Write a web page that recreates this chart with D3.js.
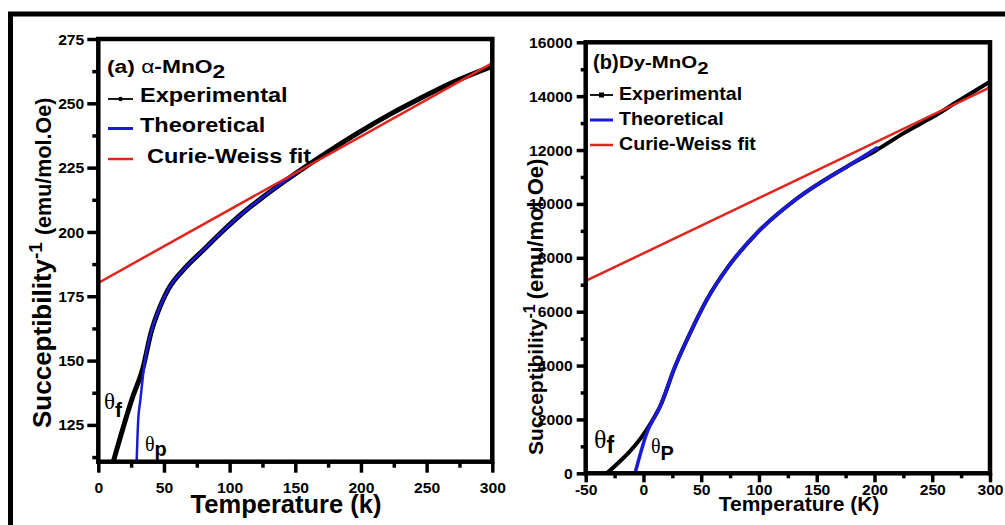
<!DOCTYPE html>
<html>
<head>
<meta charset="utf-8">
<script src="https://cdn.jsdelivr.net/npm/d3@7"></script>
<style>
  body { margin: 0; background: #fff; }
  svg { display: block; }
</style>
</head>
<body>
<div id="chart"></div>
<script>
(function() {
    'use strict';

    // ---- data ----
    // (a) alpha-MnO2
    const tempExpA = [11.4, 25.4, 34.2, 40, 47, 53, 67, 80, 94, 108, 125.5, 141, 158.5, 178.7, 200, 223, 244.6, 270, 300];
    const invChiExpA = [110.7, 134.7, 147.6, 160.6, 171, 177.5, 186.5, 193, 200, 206.5, 213.6, 219.4, 225.6, 232.4, 239.2, 246, 251.8, 258.2, 264.4];
    const tempTheoA = [29.2, 30.4, 32, 35.2, 40, 47, 53, 67, 80, 94, 108, 125.5, 141, 155];
    const invChiTheoA = [110.7, 127, 134.5, 149, 160.6, 171, 177.5, 186.5, 193, 200, 206.5, 213.6, 219.4, 224.4];
    const tempFitA = [0, 300];
    const invChiFitA = [180.2, 265.6];

    // (b) Dy-MnO2
    const tempExpB = [-31.8, 7.1, 14.3, 27.3, 40.3, 54.7, 73.4, 98, 131.2, 176, 202, 225, 251, 274, 300];
    const invChiExpB = [0, 1916, 2472, 3957, 5197, 6433, 7670, 8910, 10146, 11383, 12002, 12620, 13240, 13858, 14537];
    const tempTheoB = [-7.3, 2.8, 14.3, 27.3, 40.3, 54.7, 73.4, 98, 131.2, 176, 203];
    const invChiTheoB = [0, 1485, 2472, 3957, 5197, 6433, 7670, 8910, 10146, 11383, 12100];
    const tempFitB = [-50, 300];
    const invChiFitB = [7139, 14329];

    // ticks
    const xTicksA = [0, 50, 100, 150, 200, 250, 300];
    const xMinorA = [25, 75, 125, 175, 225, 275];
    const yTicksA = [125, 150, 175, 200, 225, 250, 275];
    const yMinorA = [112.5, 137.5, 162.5, 187.5, 212.5, 237.5, 262.5];
    const xTicksB = [-50, 0, 50, 100, 150, 200, 250, 300];
    const xMinorB = [-25, 25, 75, 125, 175, 225, 275];
    const yTicksB = [0, 2000, 4000, 6000, 8000, 10000, 12000, 14000, 16000];
    const yMinorB = [1000, 3000, 5000, 7000, 9000, 11000, 13000, 15000];

    const legendLabels = ['Experimental', 'Theoretical', 'Curie-Weiss fit'];

    const SANS = '"Liberation Sans", Arial, Helvetica, sans-serif';
    const SERIF = '"Liberation Serif", "Times New Roman", serif';
    const BLACK = '#000', BLUE = '#1a1ad8', RED = '#e0241e';

    const svg = d3.select('#chart').append('svg')
        .attr('width', 1005)
        .attr('height', 525);

    svg.append('rect').attr('width', 1005).attr('height', 525).attr('fill', '#fff');

    // outer border left over from the source figure
    svg.append('line').attr('x1', 8).attr('x2', 1005).attr('y1', 14).attr('y2', 14)
        .attr('stroke', '#000').attr('stroke-width', 5);
    svg.append('line').attr('x1', 10.5).attr('x2', 10.5).attr('y1', 12).attr('y2', 525)
        .attr('stroke', '#000').attr('stroke-width', 5);

    // text helper: a text stretched horizontally like the source
    function addText(parent, x, y, sx, parts, anchor) {
        const t = parent.append('text')
            .attr('transform', `translate(${x},${y}) scale(${sx},1)`)
            .attr('text-anchor', anchor || 'start')
            .attr('fill', '#000');
        parts.forEach(p => {
            t.append('tspan')
                .attr('dy', p.dy || 0)
                .attr('dx', p.dx || 0)
                .style('font-family', p.family || SANS)
                .style('font-weight', p.weight || 'bold')
                .style('font-size', p.size + 'px')
                .text(p.t);
        });
        return t;
    }

    function drawPanel(cfg) {
        const g = svg.append('g');
        const x = d3.scaleLinear().domain(cfg.xDomain).range([cfg.left, cfg.right]);
        const y = d3.scaleLinear().domain(cfg.yDomain).range([cfg.bottom, cfg.top]);
        const fmt = d => String(d);

        // major + minor ticks
        const xMaj = g.append('g').attr('transform', `translate(0,${cfg.bottom})`)
            .call(d3.axisBottom(x).tickValues(cfg.xTicks).tickSize(cfg.majorLen).tickFormat(fmt));
        const xMin = g.append('g').attr('transform', `translate(0,${cfg.bottom})`)
            .call(d3.axisBottom(x).tickValues(cfg.xMinor).tickSize(cfg.minorLen).tickFormat(''));
        const yMaj = g.append('g').attr('transform', `translate(${cfg.left},0)`)
            .call(d3.axisLeft(y).tickValues(cfg.yTicks).tickSize(cfg.majorLen).tickFormat(fmt));
        const yMin = g.append('g').attr('transform', `translate(${cfg.left},0)`)
            .call(d3.axisLeft(y).tickValues(cfg.yMinor).tickSize(cfg.minorLen).tickFormat(''));

        [xMaj, xMin, yMaj, yMin].forEach(a => {
            a.select('.domain').remove();
            a.selectAll('line').attr('stroke', '#000').attr('stroke-width', 3.5);
        });
        const tickStyle = sel => sel
            .style('font-family', SANS)
            .style('font-weight', 'bold')
            .style('font-size', '14px')
            .attr('fill', '#000')
            .attr('transform', 'scale(1.12,1)');
        tickStyle(xMaj.selectAll('text')).attr('y', cfg.xLabelBase).attr('dy', 0);
        tickStyle(yMaj.selectAll('text')).attr('x', -cfg.yLabelGap / 1.12).attr('dy', '0.36em');

        // curves
        const line = d3.line().x(d => x(d[0])).y(d => y(d[1])).curve(d3.curveMonotoneX);
        const zip = (a, b) => a.map((v, i) => [v, b[i]]);

        const clipId = 'clip-' + cfg.id;
        g.append('clipPath').attr('id', clipId).append('rect')
            .attr('x', cfg.left).attr('y', cfg.top)
            .attr('width', cfg.right - cfg.left).attr('height', cfg.bottom - cfg.top);
        const plot = g.append('g').attr('clip-path', `url(#${clipId})`);

        plot.append('path').datum(zip(cfg.expT, cfg.expV))
            .attr('fill', 'none').attr('stroke', BLACK)
            .attr('stroke-width', cfg.expWidth).attr('stroke-linejoin', 'round')
            .attr('d', line);
        plot.append('path').datum(zip(cfg.theoT, cfg.theoV))
            .attr('fill', 'none').attr('stroke', BLUE)
            .attr('stroke-width', cfg.theoWidth).attr('stroke-linejoin', 'round')
            .attr('d', line);
        plot.append('path').datum(zip(cfg.fitT, cfg.fitV))
            .attr('fill', 'none').attr('stroke', RED)
            .attr('stroke-width', 2.5)
            .attr('d', d3.line().x(d => x(d[0])).y(d => y(d[1])));

        // frame
        g.append('rect')
            .attr('x', cfg.left).attr('y', cfg.top)
            .attr('width', cfg.right - cfg.left).attr('height', cfg.bottom - cfg.top)
            .attr('fill', 'none').attr('stroke', '#000').attr('stroke-width', 4.5);

        // legend
        const lg = cfg.legend;
        const colors = [BLACK, BLUE, RED];
        const widths = [1.8, 3, 2.5];
        legendLabels.forEach((lab, i) => {
            const ly = lg.lineY[i];
            g.append('line')
                .attr('x1', lg.x1).attr('x2', lg.x2).attr('y1', ly).attr('y2', ly)
                .attr('stroke', colors[i]).attr('stroke-width', widths[i]);
            if (i === 0) {
                if (cfg.id === 'a') {
                    g.append('circle').attr('cx', (lg.x1 + lg.x2) / 2).attr('cy', ly).attr('r', 2.2).attr('fill', '#000');
                } else {
                    g.append('rect').attr('x', (lg.x1 + lg.x2) / 2 - 2.5).attr('y', ly - 2.5)
                        .attr('width', 5).attr('height', 5).attr('fill', '#000');
                }
            }
            addText(g, lg.textX[i], lg.textY[i], lg.sx, [{ t: lab, size: lg.size }]);
        });

        // axis titles
        addText(g, cfg.xTitle.x, cfg.xTitle.y, 1, [{ t: cfg.xTitle.text, size: cfg.xTitle.size }], 'middle');
        const yt = cfg.yTitle;
        svg.append('text')
            .attr('transform', `translate(${yt.x},${yt.y}) rotate(-90)`)
            .call(t => {
                t.append('tspan').style('font-family', SANS).style('font-weight', 'bold')
                    .style('font-size', yt.size + 'px').text('Succeptibility');
                t.append('tspan').attr('dy', -yt.supRaise).style('font-family', SANS).style('font-weight', 'bold')
                    .style('font-size', yt.supSize + 'px').text('-1');
                t.append('tspan').attr('dy', yt.supRaise).attr('dx', yt.gap).style('font-family', SANS).style('font-weight', 'bold')
                    .style('font-size', yt.unitSize + 'px').text('(emu/mol.Oe)');
            });

        return { g, x, y };
    }

    // ---- panel (a) ----
    const pa = drawPanel({
        id: 'a',
        left: 98.3, right: 492.3, top: 39, bottom: 461.7,
        xDomain: [0, 300], yDomain: [110.7, 275],
        xTicks: xTicksA, xMinor: xMinorA, yTicks: yTicksA, yMinor: yMinorA,
        majorLen: 11, minorLen: 6, xLabelBase: 31, yLabelGap: 14,
        expT: tempExpA, expV: invChiExpA, expWidth: 5,
        theoT: tempTheoA, theoV: invChiTheoA, theoWidth: 2.5,
        fitT: tempFitA, fitV: invChiFitA,
        legend: {
            x1: 108, x2: 133, lineY: [99, 128.5, 159],
            textX: [140, 140, 147], textY: [102, 132, 163], size: 21, sx: 1.12
        },
        xTitle: { text: 'Temperature (k)', x: 286, y: 513, size: 25.5 },
        yTitle: { x: 51, y: 428, size: 26, supSize: 19, supRaise: 9, unitSize: 21.5, gap: 7 }
    });
    addText(pa.g, 107, 73, 1.2, [
        { t: '(a) ', size: 19 },
        { t: 'α', size: 19, weight: 'normal' },
        { t: '-MnO', size: 19 },
        { t: '2', size: 19, dy: 5 }
    ]);
    addText(pa.g, 104, 409, 1, [
        { t: 'θ', size: 23, weight: 'normal', family: SERIF },
        { t: 'f', size: 21, dy: 8 }
    ]);
    addText(pa.g, 145, 451, 1, [
        { t: 'θ', size: 20, weight: 'normal', family: SERIF },
        { t: 'p', size: 20, dy: 5 }
    ]);

    // ---- panel (b) ----
    const pb = drawPanel({
        id: 'b',
        left: 585.7, right: 990, top: 42.3, bottom: 473.3,
        xDomain: [-50, 300], yDomain: [0, 16000],
        xTicks: xTicksB, xMinor: xMinorB, yTicks: yTicksB, yMinor: yMinorB,
        majorLen: 9, minorLen: 5, xLabelBase: 21.5, yLabelGap: 13,
        expT: tempExpB, expV: invChiExpB, expWidth: 4,
        theoT: tempTheoB, theoV: invChiTheoB, theoWidth: 3.5,
        fitT: tempFitB, fitV: invChiFitB,
        legend: {
            x1: 590, x2: 613, lineY: [95, 120, 145],
            textX: [619, 619, 619], textY: [100, 125, 150], size: 18, sx: 1.09
        },
        xTitle: { text: 'Temperature (K)', x: 799, y: 511, size: 21 },
        yTitle: { x: 543, y: 455, size: 21, supSize: 16, supRaise: 8, unitSize: 22, gap: 5 }
    });
    addText(pb.g, 593, 69, 1, [{ t: '(b)', size: 20 }]);
    addText(pb.g, 619, 68, 1.2, [
        { t: 'Dy-MnO', size: 17 },
        { t: '2', size: 17, dy: 6 }
    ]);
    addText(pb.g, 594, 448, 1, [
        { t: 'θ', size: 26, weight: 'normal', family: SERIF },
        { t: 'f', size: 23, dy: 5 }
    ]);
    addText(pb.g, 651, 453, 1, [
        { t: 'θ', size: 20, weight: 'normal', family: SERIF },
        { t: 'P', size: 20, dy: 7 }
    ]);
})();
</script>
</body>
</html>
